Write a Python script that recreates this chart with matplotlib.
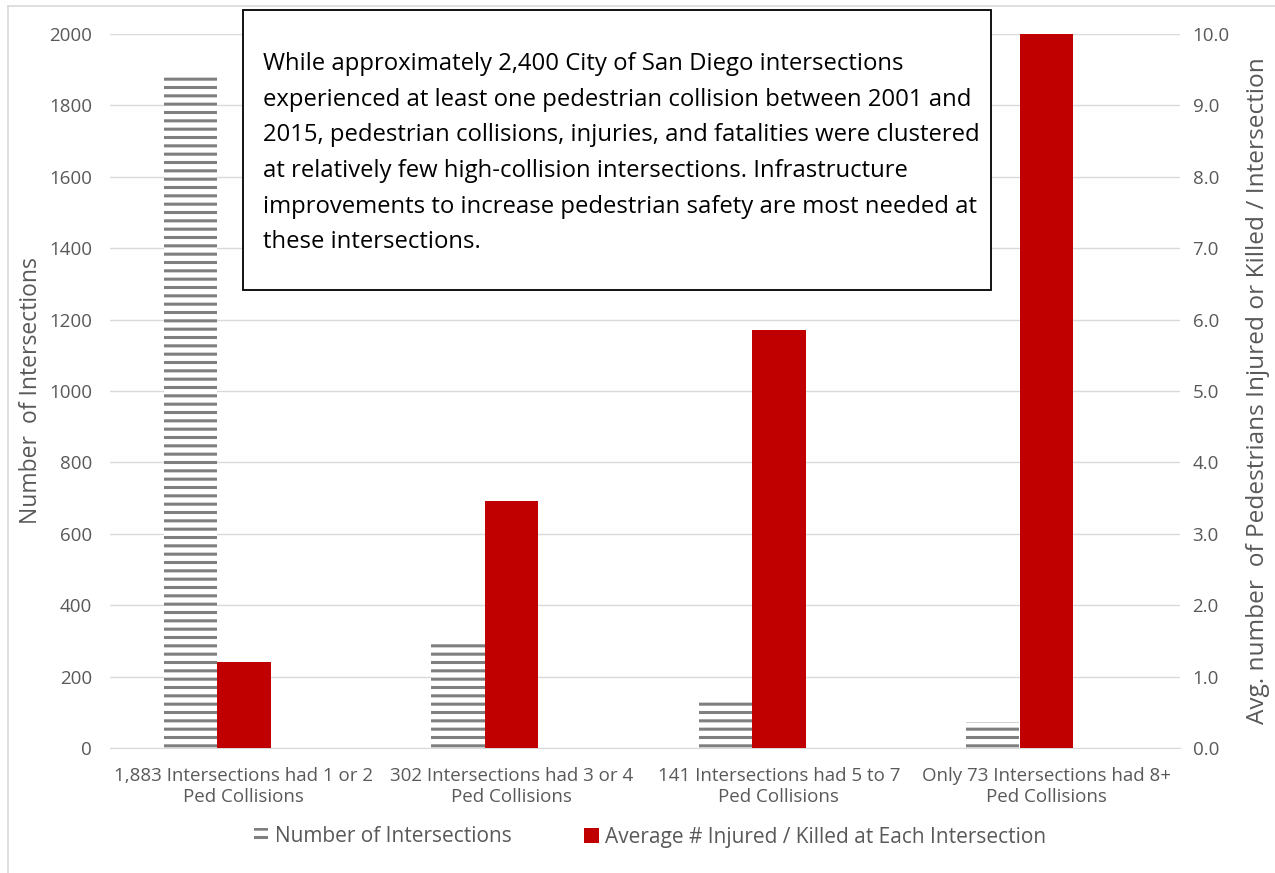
import numpy as np
import matplotlib
matplotlib.use('Agg')
import matplotlib.pyplot as plt
from matplotlib.patches import Patch, Rectangle

plt.rcParams['font.family'] = ['Open Sans', 'DejaVu Sans']
plt.rcParams['hatch.linewidth'] = 2.2

#data
categories = ['1,883 Intersections had 1 or 2\nPed Collisions',
              '302 Intersections had 3 or 4\nPed Collisions',
              '141 Intersections had 5 to 7\nPed Collisions',
              'Only 73 Intersections had 8+\nPed Collisions']
num_intersections = [1883, 302, 141, 73]
avg_injured = [1.2, 3.46, 5.85, 10.0]

left_ticks = list(range(0, 2001, 200))
right_ticks = [0, 1, 2, 3, 4, 5, 6, 7, 8, 9, 10]

note = ("While approximately 2,400 City of San Diego intersections\n"
        "experienced at least one pedestrian collision between 2001 and\n"
        "2015, pedestrian collisions, injuries, and fatalities were clustered\n"
        "at relatively few high-collision intersections. Infrastructure\n"
        "improvements to increase pedestrian safety are most needed at\n"
        "these intersections.")

gray = '#7f7f7f'
red = '#c00000'
txt = '#595959'
W, H = 1275, 873

fig = plt.figure(figsize=(W / 100, H / 100), dpi=100)
ax = fig.add_axes([110 / W, 1 - 748 / H, 1070 / W, 714 / H])
ax2 = ax.twinx()

x = np.arange(len(categories))
bw = 0.2
#gray bars sit just left of the red ones
ax.bar(x - bw, num_intersections, width=bw, color='white',
       edgecolor=gray, linewidth=0, hatch='--')
ax2.bar(x, avg_injured, width=bw, color=red, linewidth=0)

ax.set_xlim(-0.5, len(categories) - 0.5)
ax.set_ylim(0, 2000)
ax2.set_ylim(0, 10)
ax.set_yticks(left_ticks)
ax2.set_yticks(right_ticks)
ax2.set_yticklabels([f'{t:.1f}' for t in right_ticks])
ax.set_xticks(x)
ax.set_xticklabels(categories, fontsize=13.3, color=txt, linespacing=1.2)

ax.grid(axis='y', color='#d9d9d9', linewidth=1)
ax.set_axisbelow(True)
for a in (ax, ax2):
    for s in a.spines.values():
        s.set_visible(False)
    a.tick_params(length=0, labelsize=13.5, labelcolor=txt)
ax.spines['bottom'].set_visible(True)
ax.spines['bottom'].set_color('#d9d9d9')
ax.tick_params(axis='y', pad=13)
ax2.tick_params(axis='y', pad=9)
ax.tick_params(axis='x', pad=14)

ax.set_ylabel('Number  of Intersections', fontsize=16.5, color=txt, labelpad=4)
ax2.set_ylabel('Avg. number  of Pedestrians Injured or Killed / Intersection',
               fontsize=17.6, color=txt, labelpad=12)

handles = [Patch(facecolor='white', edgecolor=gray, linewidth=0, hatch='--'),
           Patch(facecolor=red, linewidth=0)]
fig.legend(handles, ['Number of Intersections',
                     'Average # Injured / Killed at Each Intersection'],
           loc='center', bbox_to_anchor=(650 / W, 1 - 837 / H), ncol=2,
           frameon=False, fontsize=15, labelcolor=txt, handlelength=0.7,
           handleheight=0.7, handletextpad=0.3, columnspacing=3.5)

#outer chart border (left and top only visible)
fig.add_artist(plt.Line2D([8 / W, 8 / W], [0, 1 - 6 / H], color='#d9d9d9', lw=1.2))
fig.add_artist(plt.Line2D([8 / W, 1], [1 - 6 / H, 1 - 6 / H], color='#d9d9d9', lw=1.2))

#annotation box
fig.add_artist(Rectangle((243 / W, 1 - 290 / H), 748 / W, 280 / H,
                         transform=fig.transFigure, facecolor='white',
                         edgecolor='black', linewidth=1.3, zorder=5))
fig.text(263 / W, 1 - 52 / H, note, fontsize=17.2, color='black', va='top',
         ha='left', linespacing=1.65, zorder=6)

fig.savefig('out.png', dpi=100)
